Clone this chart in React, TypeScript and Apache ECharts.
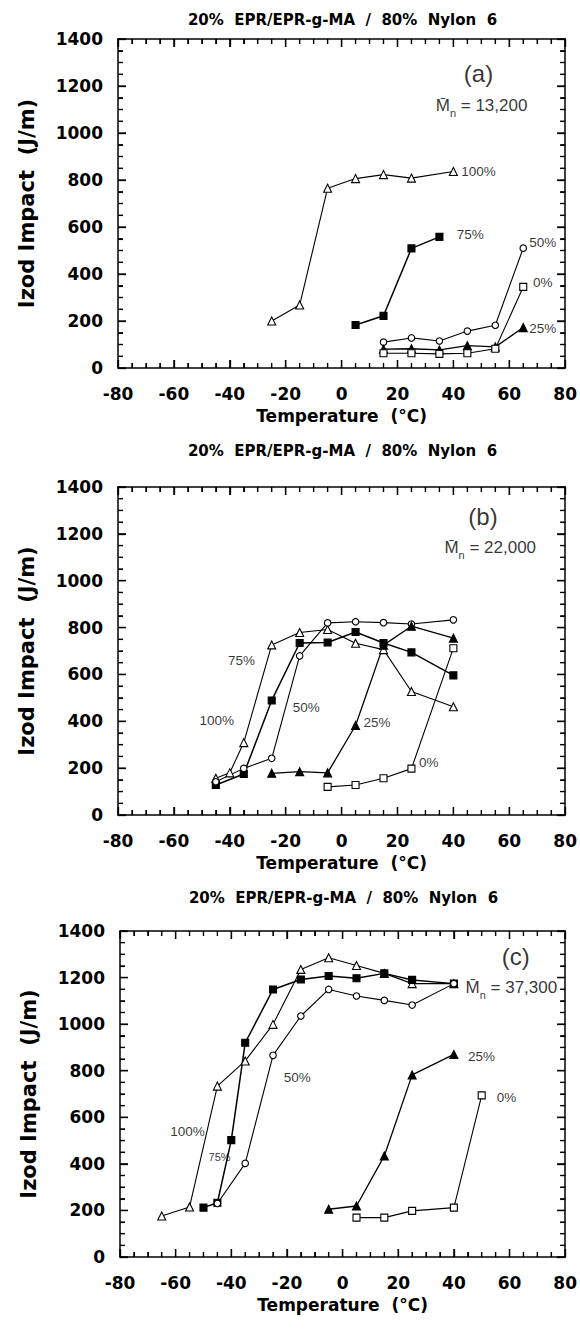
import React, { useEffect, useRef } from "react";
import * as echarts from "echarts";

// ---- axis settings -------------------------------------------------------
const TEMP_MIN = -80;
const TEMP_MAX = 80;
const TEMP_STEP = 20;
const TEMP_MINOR = 5;
const IMPACT_MIN = 0;
const IMPACT_MAX = 1400;
const IMPACT_STEP = 200;
const IMPACT_MINOR = 50;

const TITLE = "20%\u00a0 EPR/EPR-g-MA\u00a0 /\u00a0 80%\u00a0 Nylon\u00a0 6";
const X_NAME = "Temperature\u00a0 (°C)";
const Y_NAME = "Izod Impact\u00a0 (J/m)";

// rubber phase: percent of EPR-g-MA in the EPR/EPR-g-MA blend
const RUBBER_KEYS = ["100%", "75%", "50%", "25%", "0%"];

// ---- panel (a): Mn = 13,200 --------------------------------------------
const A_T_100 = [-25, -15, -5, 5, 15, 25, 40];
const A_I_100 = [200, 268, 765, 806, 823, 808, 836];
const A_T_75 = [5, 15, 25, 35];
const A_I_75 = [183, 222, 509, 558];
const A_T_50 = [15, 25, 35, 45, 55, 65];
const A_I_50 = [110, 128, 115, 157, 182, 510];
const A_T_25 = [15, 25, 35, 45, 55, 65];
const A_I_25 = [80, 82, 77, 95, 90, 172];
const A_T_0 = [15, 25, 35, 45, 55, 65];
const A_I_0 = [63, 63, 60, 63, 82, 345];

// ---- panel (b): Mn = 22,000 --------------------------------------------
const B_T_100 = [-45, -40, -35, -25, -15, -5, 5, 15, 25, 40];
const B_I_100 = [157, 180, 309, 726, 779, 792, 733, 706, 527, 462];
const B_T_75 = [-45, -35, -25, -15, -5, 5, 15, 25, 40];
const B_I_75 = [128, 175, 489, 734, 736, 781, 734, 694, 596];
const B_T_50 = [-45, -35, -25, -15, -5, 5, 15, 25, 40];
const B_I_50 = [142, 199, 242, 679, 820, 825, 821, 815, 833];
const B_T_25 = [-25, -15, -5, 5, 15, 25, 40];
const B_I_25 = [178, 185, 180, 382, 725, 806, 755];
const B_T_0 = [-5, 5, 15, 25, 40];
const B_I_0 = [120, 128, 157, 198, 712];

// ---- panel (c): Mn = 37,300 --------------------------------------------
const C_T_100 = [-65, -55, -45, -35, -25, -15, -5, 5, 15, 25, 40];
const C_I_100 = [176, 215, 734, 842, 999, 1235, 1285, 1252, 1218, 1174, 1174];
const C_T_75 = [-50, -45, -40, -35, -25, -15, -5, 5, 15, 25, 40];
const C_I_75 = [212, 233, 502, 920, 1149, 1192, 1207, 1197, 1218, 1190, 1174];
const C_T_50 = [-45, -35, -25, -15, -5, 5, 15, 25, 40];
const C_I_50 = [230, 402, 866, 1035, 1149, 1121, 1102, 1082, 1174];
const C_T_25 = [-5, 5, 15, 25, 40];
const C_I_25 = [205, 219, 434, 782, 870];
const C_T_0 = [5, 15, 25, 40, 50];
const C_I_0 = [169, 169, 198, 212, 694];

// curve label anchors [temperature, impact], in the order of RUBBER_KEYS
const A_LABEL_AT = [[49, 838], [46, 570], [72, 532], [72, 170], [72, 362]];
const B_LABEL_AT = [[-44.7, 405], [-35.8, 661], [-12.6, 457], [12.7, 393], [31.2, 222]];
const C_LABEL_AT = [[-55.7, 537], [-44.2, 429], [-16.3, 773], [49.9, 863], [58.9, 687]];

const PANEL_TAGS = ["(a)", "(b)", "(c)"];
const PANEL_TAG_AT = [[49, 1255], [50.6, 1275], [62.2, 1290]];
const MN_VALUES = ["13,200", "22,000", "37,300"];
const MN_AT = [[33.7, 1115], [36.8, 1140], [44.2, 1159]];

const PANELS = [
  {
    series: [
      [A_T_100, A_I_100], [A_T_75, A_I_75], [A_T_50, A_I_50], [A_T_25, A_I_25], [A_T_0, A_I_0],
    ],
    labels: A_LABEL_AT,
  },
  {
    series: [
      [B_T_100, B_I_100], [B_T_75, B_I_75], [B_T_50, B_I_50], [B_T_25, B_I_25], [B_T_0, B_I_0],
    ],
    labels: B_LABEL_AT,
  },
  {
    series: [
      [C_T_100, C_I_100], [C_T_75, C_I_75], [C_T_50, C_I_50], [C_T_25, C_I_25], [C_T_0, C_I_0],
    ],
    labels: C_LABEL_AT,
  },
];

// ---- layout ------------------------------------------------------------
const GRIDS = [
  { left: 118, top: 39, width: 449, height: 329 },
  { left: 118, top: 487, width: 449, height: 328 },
  { left: 120, top: 931, width: 447, height: 326 },
];
const TITLE_Y = [20, 451, 898];

const MARKER_STYLE: Record<string, { symbol: string; filled: boolean; size: number; width: number }> = {
  "100%": { symbol: "triangle", filled: false, size: 8, width: 1.1 },
  "75%": { symbol: "rect", filled: true, size: 7, width: 1.5 },
  "50%": { symbol: "circle", filled: false, size: 6.5, width: 1.1 },
  "25%": { symbol: "triangle", filled: true, size: 8, width: 1.3 },
  "0%": { symbol: "rect", filled: false, size: 7, width: 1.1 },
};

const BOLD = "'DejaVu Sans', sans-serif";
const PLAIN = "'Liberation Sans', Arial, sans-serif";
const MAJOR_LEN = 8;
const MINOR_LEN = 5;

// tick positions along an axis: [value, 1 for a major tick / 0 for a minor one]
function tickList(min: number, max: number, minor: number, major: number) {
  const out: number[][] = [];
  for (let v = min; v <= max + 1e-9; v += minor) {
    out.push([v, Math.abs(v / major - Math.round(v / major)) < 1e-6 ? 1 : 0]);
  }
  return out;
}
const X_TICKS = tickList(TEMP_MIN, TEMP_MAX, TEMP_MINOR, TEMP_STEP);
const Y_TICKS = tickList(IMPACT_MIN, IMPACT_MAX, IMPACT_MINOR, IMPACT_STEP);

function frameParts() {
  return {
    axisLine: { show: true, onZero: false, lineStyle: { color: "#000", width: 1.5 } },
    axisTick: { show: true, inside: true, length: MAJOR_LEN, lineStyle: { color: "#000", width: 1.3 } },
    minorTick: { show: true, splitNumber: 4, length: MINOR_LEN, lineStyle: { color: "#000", width: 1.1 } },
    splitLine: { show: false },
  };
}

function titleGraphics() {
  return GRIDS.map((g, gi) => ({
    type: "text",
    x: g.left + g.width / 2,
    y: TITLE_Y[gi],
    silent: true,
    style: {
      text: TITLE,
      font: `bold 15px ${BOLD}`,
      fill: "#000",
      textAlign: "center",
      textVerticalAlign: "middle",
      align: "center",
      verticalAlign: "middle",
    },
  }));
}

function buildOption() {
  const grid: any[] = [];
  const xAxis: any[] = [];
  const yAxis: any[] = [];
  const series: any[] = [];

  const plainNumber = (v: number) => String(v);

  GRIDS.forEach((g, gi) => {
    grid.push({ ...g });

    const xRange = { type: "value", gridIndex: gi, min: TEMP_MIN, max: TEMP_MAX, interval: TEMP_STEP };
    const yRange = { type: "value", gridIndex: gi, min: IMPACT_MIN, max: IMPACT_MAX, interval: IMPACT_STEP };

    // first axis of a grid sits at the bottom / left, the second one at the top / right
    xAxis.push({
      ...xRange,
      ...frameParts(),
      name: X_NAME,
      nameLocation: "middle",
      nameGap: 39,
      nameTextStyle: { fontFamily: BOLD, fontWeight: "bold", fontSize: 17, color: "#000" },
      axisLabel: {
        show: true,
        margin: 17,
        formatter: plainNumber,
        fontFamily: BOLD,
        fontWeight: "bold",
        fontSize: 17,
        color: "#000",
      },
    });
    xAxis.push({ ...xRange, ...frameParts(), axisLabel: { show: false } });

    yAxis.push({
      ...yRange,
      ...frameParts(),
      name: Y_NAME,
      nameLocation: "middle",
      nameGap: 81,
      nameRotate: 90,
      nameTextStyle: { fontFamily: BOLD, fontWeight: "bold", fontSize: 21, color: "#000" },
      axisLabel: {
        show: true,
        margin: 15,
        formatter: plainNumber,
        fontFamily: BOLD,
        fontWeight: "bold",
        fontSize: 17,
        color: "#000",
      },
    });
    yAxis.push({ ...yRange, ...frameParts(), axisLabel: { show: false } });

    const panel = PANELS[gi];
    panel.series.forEach(([ts, vs], si) => {
      const key = RUBBER_KEYS[si];
      const m = MARKER_STYLE[key];
      series.push({
        type: "line",
        name: `${key} ${PANEL_TAGS[gi]}`,
        xAxisIndex: gi * 2,
        yAxisIndex: gi * 2,
        data: ts.map((t, i) => [t, vs[i]]),
        symbol: m.symbol,
        symbolSize: m.size,
        showSymbol: true,
        itemStyle: { color: m.filled ? "#000" : "#fff", borderColor: "#000", borderWidth: 1.1 },
        lineStyle: { color: "#000", width: m.width },
        z: 3,
      });
    });

    // curve names, panel tag and molecular weight
    const small = gi === 2;
    const noteLabel = (fontSize: number) => ({
      show: true,
      position: [0, 0],
      align: "center",
      verticalAlign: "middle",
      formatter: "{b}",
      fontFamily: PLAIN,
      fontSize,
      color: "#000",
      textBorderWidth: 0,
    });
    series.push({
      type: "scatter",
      name: `notes ${PANEL_TAGS[gi]}`,
      xAxisIndex: gi * 2,
      yAxisIndex: gi * 2,
      symbolSize: 0,
      itemStyle: { color: "#000" },
      silent: true,
      z: 5,
      data: [
        ...RUBBER_KEYS.map((key, i) => ({
          name: key,
          value: panel.labels[i],
          label: noteLabel(small && key === "75%" ? 11 : 13.5),
        })),
        {
          name: PANEL_TAGS[gi],
          value: PANEL_TAG_AT[gi],
          label: noteLabel(24),
        },
        {
          name: "Mn",
          value: MN_AT[gi],
          label: {
            show: true,
            position: [0, 0],
            align: "left",
            verticalAlign: "middle",
            textBorderWidth: 0,
            formatter: `{m|M\u0304}{s|n}{t| = ${MN_VALUES[gi]}}`,
            rich: {
              m: { fontFamily: PLAIN, fontSize: 17, color: "#000", lineHeight: 26, verticalAlign: "middle" },
              s: { fontFamily: PLAIN, fontSize: 11, color: "#000", lineHeight: 11, verticalAlign: "bottom" },
              t: { fontFamily: PLAIN, fontSize: 17, color: "#000", lineHeight: 26, verticalAlign: "middle" },
            },
          },
        },
      ],
    });
  });

  return {
    animation: false,
    backgroundColor: "#fff",
    grid,
    xAxis,
    yAxis,
    series,
    graphic: titleGraphics(),
  };
}

// inward tick marks on all four sides of every frame, placed through the grid's scales
function tickGraphics(chart: echarts.ECharts) {
  const out: any[] = [];
  const style = { stroke: "#000", lineWidth: 1.3 };
  const seg = (x1: number, y1: number, x2: number, y2: number) => ({
    type: "line",
    silent: true,
    z: 20,
    shape: { x1, y1, x2, y2 },
    style,
  });
  GRIDS.forEach((_g, gi) => {
    const finder = { gridIndex: gi };
    X_TICKS.forEach(([v, major]) => {
      const len = major ? MAJOR_LEN : MINOR_LEN;
      const b = chart.convertToPixel(finder, [v, IMPACT_MIN]) as number[];
      const t = chart.convertToPixel(finder, [v, IMPACT_MAX]) as number[];
      if (!b || !t) return;
      out.push(seg(b[0], b[1], b[0], b[1] - len));
      out.push(seg(t[0], t[1], t[0], t[1] + len));
    });
    Y_TICKS.forEach(([v, major]) => {
      const len = major ? MAJOR_LEN : MINOR_LEN;
      const l = chart.convertToPixel(finder, [TEMP_MIN, v]) as number[];
      const r = chart.convertToPixel(finder, [TEMP_MAX, v]) as number[];
      if (!l || !r) return;
      out.push(seg(l[0], l[1], l[0] + len, l[1]));
      out.push(seg(r[0], r[1], r[0] - len, r[1]));
    });
  });
  return out;
}

export default function App() {
  const ref = useRef<HTMLDivElement>(null);

  useEffect(() => {
    if (!ref.current) return;
    const chart = echarts.init(ref.current, undefined, { renderer: "svg" });
    chart.setOption(buildOption());
    try {
      chart.setOption({ graphic: [...titleGraphics(), ...tickGraphics(chart)] });
    } catch (e) {
      // keep the chart as drawn if the frame ticks cannot be placed
    }
    return () => chart.dispose();
  }, []);

  return (
    <div
      ref={ref}
      style={{ position: "absolute", left: 0, top: 0, width: 580, height: 1329, background: "#fff" }}
    />
  );
}
